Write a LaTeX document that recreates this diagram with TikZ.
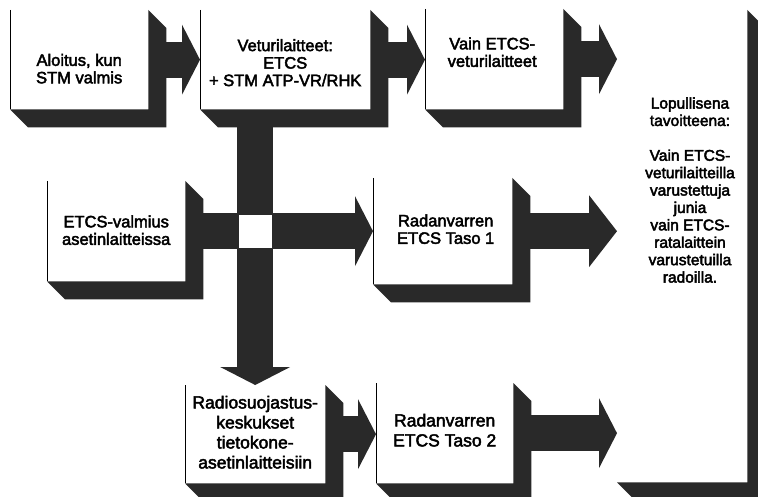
\documentclass[tikz,border=0pt]{standalone}
\usepackage{fontspec}
\setmainfont{Liberation Sans}
\usetikzlibrary{arrows.meta,calc}
\definecolor{shadowc}{gray}{0.16}
\newcommand\heavy[1]{\special{pdf:literal direct 2 Tr 0.45 w}#1\special{pdf:literal direct 0 Tr}}
\newcommand\boxshade[1]{%
  \fill[shadowc] (#1.north east) -- ++(18,18) -- ($(#1.south east)+(18,18)$)
    -- ($(#1.south west)+(18,18)$) -- (#1.south west) -- (#1.south east) -- cycle;
  \draw[line width=0.8pt] (#1.north west) -- (#1.south west);}
\begin{document}
\begin{tikzpicture}[x=1pt,y=-1pt,
  face/.style={rectangle, fill=white, inner sep=0pt, anchor=north west},
  txt/.style={inner sep=0pt, align=center, font=\fontsize{16.5}{17.5}\selectfont},
  txtb/.style={inner sep=0pt, align=center, font=\fontsize{17.5}{20}\selectfont},
  fat/.style={draw=shadowc, line width=36pt,
    -{Triangle[length=18pt 0 0, width=70pt 0 0, line width=0pt, fill=shadowc]}},
  fatlong/.style={draw=shadowc, line width=36pt,
    -{Triangle[length=28pt 0 0, width=72pt 0 0, line width=0pt, fill=shadowc]}},
]
\useasboundingbox (0,0) rectangle (758,497);
\clip (0,0) rectangle (758,497);
\fill[white] (0,0) rectangle (758,497);

% boxes (front faces)
\node[face, minimum width=138pt, minimum height=99pt] (b1) at (10,10) {};
\node[face, minimum width=170pt, minimum height=99pt] (b2) at (200,10) {};
\node[face, minimum width=138pt, minimum height=100pt] (b3) at (425,9) {};
\node[face, minimum width=138pt, minimum height=100pt] (b4) at (47,181) {};
\node[face, minimum width=139pt, minimum height=106pt] (b5) at (373,178) {};
\node[face, minimum width=140pt, minimum height=98pt] (b6) at (185,385) {};
\node[face, minimum width=137pt, minimum height=100pt] (b7) at (376,383) {};
\node[face, minimum width=130pt, minimum height=472pt] (b8) at (617,10) {};

% 3D shadows
\boxshade{b1}\boxshade{b2}\boxshade{b3}\boxshade{b4}
\boxshade{b5}\boxshade{b6}\boxshade{b7}
\fill[shadowc] (b8.north east) -- ++(18,18) -- ($(b8.south east)+(18,18)$)
  -- ($(b8.south west)+(18,18)$) -- (b8.south west) -- (b8.south east) -- cycle;

% texts
\node[txt] (t1) at ($(b1.center)+(0,9)$) {\heavy{Aloitus, kun}\\\heavy{STM valmis}};
\node[txt] (t2) at ($(b2.center)+(0,3)$) {\heavy{Veturilaitteet:}\\\heavy{ETCS}\\\heavy{+ STM ATP-VR/RHK}};
\node[txt] (t3) at ($(b3.center)+(-2,-7)$) {\heavy{Vain ETCS-}\\\heavy{veturilaitteet}};
\node[txt] (t4) at ($(b4.center)+(0,-1)$) {\heavy{ETCS-valmius}\\\heavy{asetinlaitteissa}};
\node[txt] (t5) at ($(b5.center)+(3,-2)$) {\heavy{Radanvarren}\\\heavy{ETCS Taso 1}};
\node[txtb] (t6) at ($(b6.center)+(0,-2)$) {\heavy{Radiosuojastus-}\\\heavy{keskukset}\\\heavy{tietokone-}\\\heavy{asetinlaitteisiin}};
\node[txtb] (t7) at ($(b7.center)+(0,-3)$) {\heavy{Radanvarren}\\\heavy{ETCS Taso 2}};
\node[inner sep=0pt, align=center, font=\fontsize{15.5}{17.4}\selectfont] (goal) at (690,190)
  {\heavy{Lopullisena}\\\heavy{tavoitteena:}\\[17.4pt]\heavy{Vain ETCS-}\\\heavy{veturilaitteilla}\\\heavy{varustettuja}\\\heavy{junia}\\\heavy{vain ETCS-}\\\heavy{ratalaittein}\\\heavy{varustetuilla}\\\heavy{radoilla.}};

% block arrows
\coordinate (X) at (b6.north |- b4.east);
\draw[fat] ($(b1.east)+(18,0)$) -- (b2.west |- b1.east);
\draw[fat] ($(b2.east)+(18,0)$) -- (b3.west |- b2.east);
\draw[fat] ($(b3.east)+(18,0)$) -- (b8.west |- b3.east);
\draw[fat] ($(b6.north |- b2.south)+(0,17)$) -- (b6.north);
\draw[fat] ($(b4.east)+(18,0)$) -- (b5.west |- b4.east);
\draw[fatlong] ($(b5.east)+(18,0)$) -- (b8.west |- b5.east);
\draw[fat] ($(b6.east)+(18,0)$) -- (b7.west |- b6.east);
\draw[fat] ($(b7.east)+(18,0)$) -- (b8.west |- b7.east);
\fill[white] ($(X)+(-16.5,-16.5)$) rectangle ($(X)+(16.5,16.5)$);
\end{tikzpicture}
\end{document}
